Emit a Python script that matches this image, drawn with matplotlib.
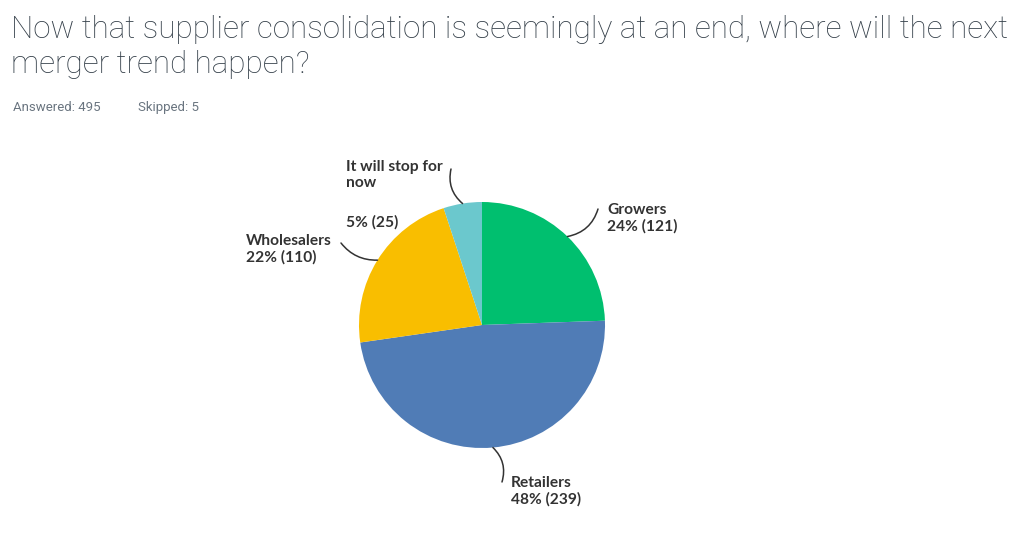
import matplotlib.pyplot as plt
import numpy as np

# survey answers
labels = ["Growers", "Retailers", "Wholesalers", "It will stop for\nnow"]
counts = [121, 239, 110, 25]
colors = ["#00BF6F", "#507CB6", "#F9BE00", "#6BC8CD"]
answered = 495
skipped = 5

W, H = 1024, 554
fig = plt.figure(figsize=(W / 100, H / 100), dpi=100)
fig.patch.set_facecolor("white")

def fx(px):
    return px / W

def fy(py):
    return 1 - py / H

# pie axes: center (482, 325) px, radius 123 px
cx, cy, r = 482, 325, 123
ax = fig.add_axes([fx(cx - r), fy(cy + r), 2 * r / W, 2 * r / H])
wedges, _ = ax.pie(counts, colors=colors, startangle=90, counterclock=False,
                   radius=1, wedgeprops=dict(linewidth=0))
ax.set_xlim(-1, 1)
ax.set_ylim(-1, 1)
ax.axis("off")

total = sum(counts)
pcts = [round(c / total * 100) for c in counts]

# where each label's leader line ends (px) and where its text sits (px)
line_ends = [(598, 209), (502, 482), (341, 243), (451, 169)]
text_pos = [(607, 203), (511, 476), (246, 234), (346, 160)]
rads = [-0.3, 0.3, 0.25, 0.3]

lab_font = dict(family="Lato", fontsize=11.2, color="#333333")
for w, lab, c, p, le, tp, rd in zip(wedges, labels, counts, pcts, line_ends, text_pos, rads):
    ang = np.deg2rad((w.theta1 + w.theta2) / 2)
    x0, y0 = np.cos(ang), np.sin(ang)
    ax.annotate("", xy=(x0, y0), xycoords="data",
                xytext=(fx(le[0]), fy(le[1])), textcoords="figure fraction",
                arrowprops=dict(arrowstyle="-", color="#333333", lw=1.1,
                                connectionstyle=f"arc3,rad={rd}",
                                shrinkA=0, shrinkB=0),
                annotation_clip=False)
    if "\n" in lab:
        fig.text(fx(tp[0]), fy(tp[1]), lab, va="top", ha="left",
                 fontweight="bold", linespacing=1.15, **lab_font)
        fig.text(fx(tp[0]), fy(tp[1] + 55), f"{p}% ({c})", va="top", ha="left",
                 fontweight="bold", **lab_font)
    else:
        fig.text(fx(tp[0]), fy(tp[1]), f"{lab}\n{p}% ({c})", va="top", ha="left",
                 fontweight="bold", linespacing=1.15, **lab_font)

fig.text(fx(11), fy(15), "Now that supplier consolidation is seemingly at an end, where will the next\nmerger trend happen?",
         va="top", ha="left", family="Roboto", fontweight="light", fontsize=22.6,
         color="#333e48", linespacing=1.28)
fig.text(fx(13), fy(101), f"Answered: {answered}",
         va="top", ha="left", family="Roboto", fontsize=9.5, color="#6a7580")
fig.text(fx(138), fy(101), f"Skipped: {skipped}",
         va="top", ha="left", family="Roboto", fontsize=9.5, color="#6a7580")

fig.savefig("out.png", dpi=100, facecolor="white")
